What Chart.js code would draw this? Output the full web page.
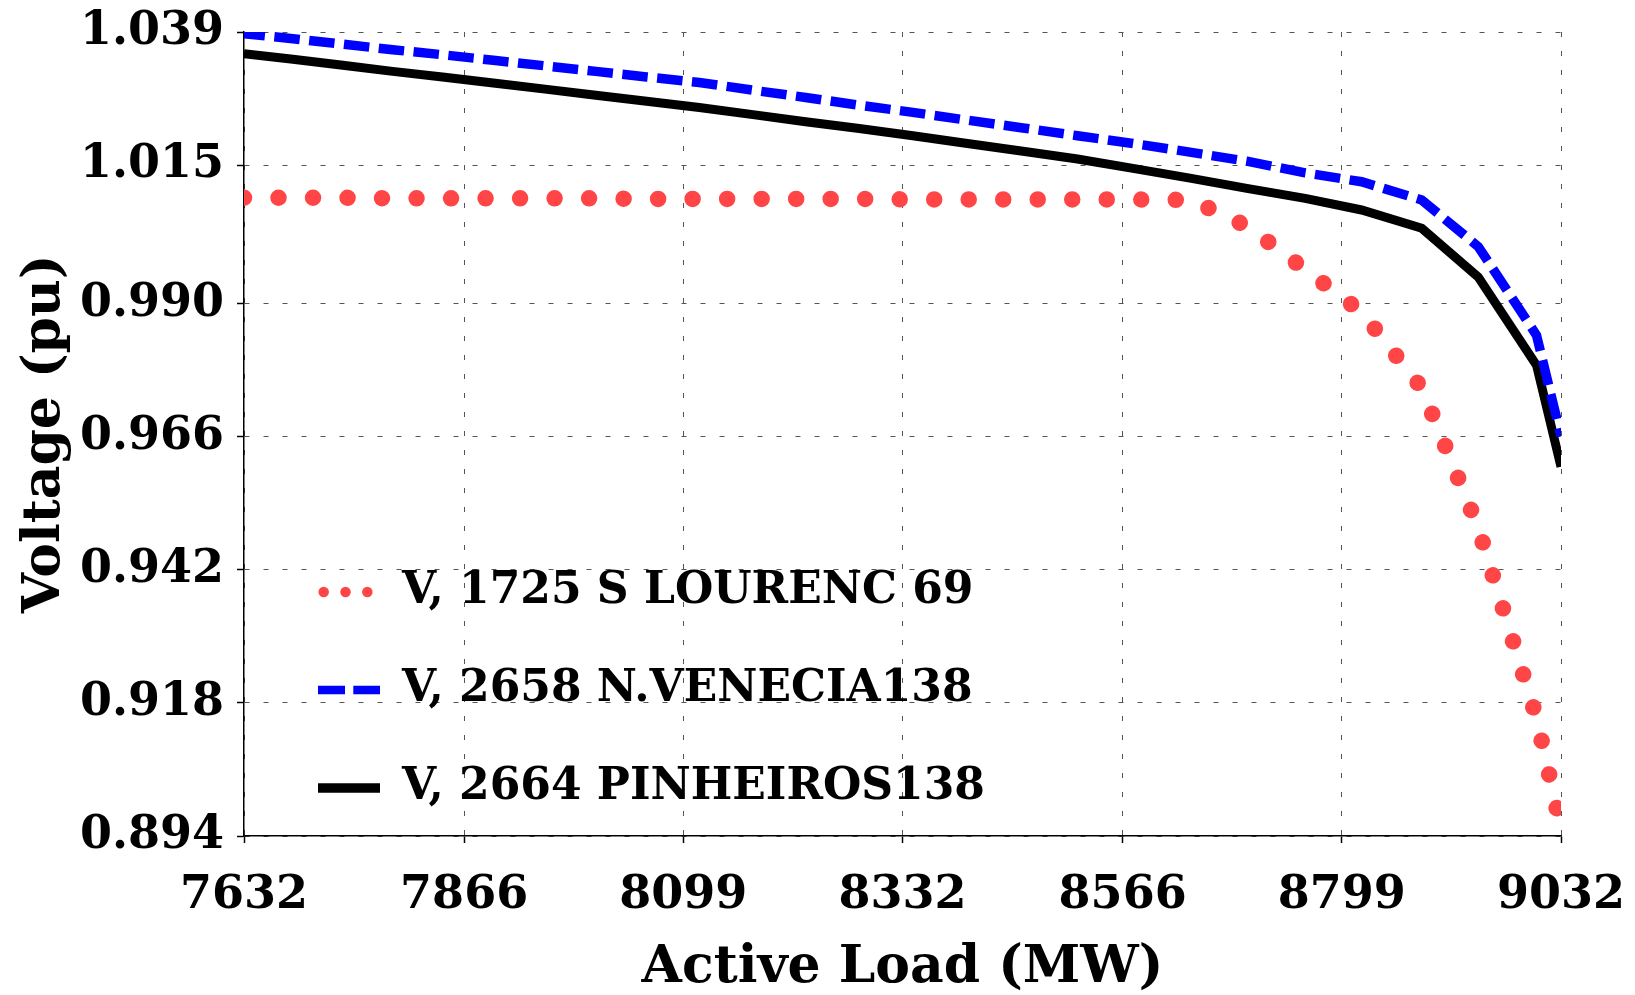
<!DOCTYPE html>
<html lang="en">
<head>
  <meta charset="UTF-8">
  <title>Voltage vs Active Load</title>
  <script src="https://cdn.jsdelivr.net/npm/chart.js"></script>
  <style>
    body {
      background-color: #fff;
      margin: 0;
      padding: 0;
    }
    .chart-box {
      width: 1635px;
      height: 995px;
    }
  </style>
</head>
<body>
  <div class="chart-box"><canvas id="voltChart"></canvas></div>

  <script>
    // active load steps (MW), shared by all three buses
    const loadMW = [7632, 7684, 7737, 7790, 7843, 7897, 7952, 8006, 8060, 8116, 8173, 8229, 8286,
                    8343, 8401, 8460, 8518, 8577, 8639, 8698, 8760, 8820, 8884, 8944, 9006, 9032];

    const vSLourenc = [1.0091, 1.0091, 1.0091, 1.0090, 1.0090, 1.0090, 1.0090, 1.0090, 1.0089, 1.0089,
                       1.0089, 1.0089, 1.0089, 1.0088, 1.0088, 1.0088, 1.0088, 1.0088, 1.0087, 1.0040,
                       0.9962, 0.9885, 0.9748, 0.9496, 0.9153, 0.8955];

    const vNVenecia = [1.0387, 1.0378, 1.0368, 1.0358, 1.0349, 1.0339, 1.0329, 1.0319, 1.0309, 1.0299,
                       1.0285, 1.0272, 1.0258, 1.0245, 1.0231, 1.0217, 1.0203, 1.0189, 1.0173, 1.0157,
                       1.0136, 1.0120, 1.0087, 1.0003, 0.9843, 0.9661];

    const vPinheiros = [1.0351, 1.0341, 1.0330, 1.0319, 1.0309, 1.0298, 1.0287, 1.0276, 1.0265, 1.0254,
                        1.0241, 1.0228, 1.0216, 1.0203, 1.0189, 1.0175, 1.0161, 1.0144, 1.0126, 1.0108,
                        1.0090, 1.0069, 1.0036, 0.9948, 0.9789, 0.9606];

    const seriesNames = ['V, 1725 S LOURENC 69', 'V, 2658 N.VENECIA138', 'V, 2664 PINHEIROS138'];

    const xTicks = [7632, 7866, 8099, 8332, 8566, 8799, 9032];
    const yTicks = [0.894, 0.918, 0.942, 0.966, 0.990, 1.015, 1.039];

    const toPoints = vals => vals.map((v, i) => ({ x: loadMW[i], y: v }));

    Chart.defaults.font.family = "'DejaVu Serif', serif";
    Chart.defaults.font.weight = 'bold';
    Chart.defaults.color = '#000';

    // put the legend inside the plot, lower left
    const legendPlacer = {
      id: 'legendPlacer',
      afterLayout(chart) {
        const lg = chart.legend;
        lg.left = chart.chartArea.left + 20;
        lg.top = 516;
        lg.bottom = chart.height;
      }
    };

    const gridOpts = {
      color: '#555',
      lineWidth: 1,
      drawTicks: true,
      tickLength: 7,
      tickColor: '#000',
      tickWidth: 1.5,
      tickBorderDash: []
    };

    const voltChart = new Chart(document.getElementById('voltChart').getContext('2d'), {
      type: 'line',
      data: {
        datasets: [
          {
            label: seriesNames[0],
            data: toPoints(vSLourenc),
            borderColor: '#ff4545',
            borderWidth: 16.5,
            borderDash: [0.01, 34.5],
            borderCapStyle: 'round',
            borderJoinStyle: 'round',
            pointRadius: 0,
            tension: 0
          },
          {
            label: seriesNames[1],
            data: toPoints(vNVenecia),
            borderColor: '#0000ff',
            borderWidth: 9.5,
            borderDash: [25.5, 9.5],
            borderDashOffset: 4.5,
            borderCapStyle: 'butt',
            pointRadius: 0,
            tension: 0
          },
          {
            label: seriesNames[2],
            data: toPoints(vPinheiros),
            borderColor: '#000',
            borderWidth: 9,
            pointRadius: 0,
            tension: 0
          }
        ]
      },
      options: {
        responsive: true,
        maintainAspectRatio: false,
        animation: false,
        layout: { padding: { top: 32, right: 74, bottom: 0, left: 0 } },
        plugins: {
          tooltip: { enabled: false },
          legend: {
            position: 'chartArea',
            align: 'start',
            labels: {
              usePointStyle: true,
              pointStyleWidth: 62,
              padding: 54,
              color: '#000',
              font: { size: 44, weight: 'bold' },
              generateLabels: () => [
                { text: seriesNames[0], strokeStyle: '#ff4545', fillStyle: '#ff4545', lineWidth: 10.5,
                  lineDash: [0.01, 21.8], lineDashOffset: -5.7, lineCap: 'round', pointStyle: 'line', datasetIndex: 0 },
                { text: seriesNames[1], strokeStyle: '#0000ff', fillStyle: '#0000ff', lineWidth: 8.5,
                  lineDash: [27, 8.3], lineDashOffset: 0, lineCap: 'butt', pointStyle: 'line', datasetIndex: 1 },
                { text: seriesNames[2], strokeStyle: '#000', fillStyle: '#000', lineWidth: 9.5,
                  lineDash: [], lineCap: 'butt', pointStyle: 'line', datasetIndex: 2 }
              ]
            }
          }
        },
        scales: {
          x: {
            type: 'linear',
            min: 7632,
            max: 9032,
            afterBuildTicks: scale => { scale.ticks = xTicks.map(v => ({ value: v })); },
            afterFit: scale => {
              scale.height = 159;
              scale.paddingLeft = 0;
              scale.paddingRight = 0;
            },
            ticks: {
              autoSkip: false,
              maxRotation: 0,
              padding: 25,
              font: { size: 46, weight: 'bold' },
              callback: v => String(v)
            },
            grid: gridOpts,
            border: { display: true, color: '#000', width: 1.5, dash: [5, 14] },
            title: {
              display: true,
              text: 'Active Load (MW)',
              font: { size: 52, weight: 'bold', lineHeight: 1 },
              padding: { top: 0, bottom: 1 }
            }
          },
          y: {
            type: 'linear',
            min: 0.894,
            max: 1.039,
            afterBuildTicks: scale => { scale.ticks = yTicks.map(v => ({ value: v })); },
            afterFit: scale => {
              scale.width = 244;
              scale.paddingTop = 0;
              scale.paddingBottom = 0;
            },
            ticks: {
              autoSkip: false,
              padding: 13,
              font: { size: 46, weight: 'bold' },
              callback: v => v.toFixed(3)
            },
            grid: gridOpts,
            border: { display: true, color: '#000', width: 1.5, dash: [5, 14] },
            title: {
              display: true,
              text: 'Voltage (pu)',
              font: { size: 52, weight: 'bold', lineHeight: 1.2 },
              padding: { top: 14, bottom: 0 }
            }
          }
        }
      },
      plugins: [legendPlacer]
    });
  </script>
</body>
</html>
